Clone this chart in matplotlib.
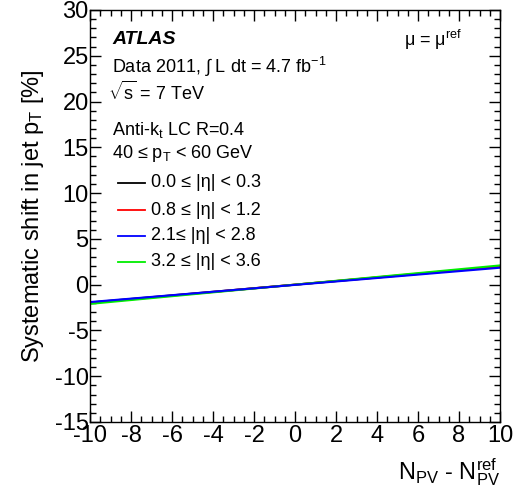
"""
ATLAS pile-up systematic shift vs N_PV - N_PV^ref
"""

import matplotlib
matplotlib.use("Agg")
import matplotlib.pyplot as plt
from matplotlib.ticker import MultipleLocator

# -------------------------------------------------------------------
# Data
# -------------------------------------------------------------------
npv_diff = [-10, 10]
labels = ["0.0 ≤ |η| < 0.3", "0.8 ≤ |η| < 1.2",
          "2.1≤ |η| < 2.8", "3.2 ≤ |η| < 3.6"]
shift_eta00 = [-1.95, 1.95]
shift_eta08 = [-2.0, 2.0]
shift_eta21 = [-1.9, 1.85]
shift_eta32 = [-2.1, 2.1]
colors = ["black", "red", "blue", "#00ee00"]

# -------------------------------------------------------------------
# Style
# -------------------------------------------------------------------
plt.rcParams["font.family"] = ["Liberation Sans", "DejaVu Sans"]
plt.rcParams["mathtext.fontset"] = "custom"
plt.rcParams["mathtext.rm"] = "Liberation Sans"
plt.rcParams["mathtext.it"] = "Liberation Sans"
plt.rcParams["mathtext.bf"] = "Liberation Sans:bold"
plt.rcParams["mathtext.sf"] = "Liberation Sans"
plt.rcParams["axes.unicode_minus"] = False

fig = plt.figure(figsize=(5.28, 4.95), dpi=100)
ax = fig.add_axes([0.1705, 0.1475, 0.7765, 0.8323])

series = [shift_eta00, shift_eta08, shift_eta21, shift_eta32]
# blue drawn last so it sits on top like in the original
for vals, col in zip([series[0], series[1], series[3], series[2]],
                     [colors[0], colors[1], colors[3], colors[2]]):
    ax.plot(npv_diff, vals, color=col, lw=1.5)

ax.set_xlim(-10, 10)
ax.set_ylim(-15, 30)
ax.xaxis.set_major_locator(MultipleLocator(2))
ax.xaxis.set_minor_locator(MultipleLocator(0.5))
ax.yaxis.set_major_locator(MultipleLocator(5))
ax.yaxis.set_minor_locator(MultipleLocator(1))
ax.tick_params(which="both", direction="in", top=True, right=True,
               labelsize=17, width=1)
ax.tick_params(which="major", length=8)
ax.tick_params(which="minor", length=4)
ax.tick_params(axis="x", pad=2)
ax.tick_params(axis="y", pad=1)
for s in ax.spines.values():
    s.set_linewidth(1)

ax.set_ylabel("Systematic shift in jet p$_\\mathrm{T}$ [%]", fontsize=17, labelpad=6)
ax.set_xlabel("N$_\\mathrm{PV}$ - N$_\\mathrm{PV}^\\mathrm{ref}$", fontsize=17, loc="right", labelpad=7)

# -------------------------------------------------------------------
# Labels
# -------------------------------------------------------------------
def fig_txt(x, y, s, **kw):
    fig.text(x / 528, 1 - y / 495, s, va="center", ha="left", **kw)

fig_txt(112, 40, "ATLAS", fontsize=14, fontweight="bold", style="italic")
fig_txt(404, 40, "μ = μ$^\\mathrm{ref}$", fontsize=13)
fig_txt(112, 67, "Data 2011, $\\int$ L dt = 4.7 fb$^{-1}$", fontsize=13)
fig_txt(108, 92, "$\\sqrt{\\mathrm{s}}$ = 7 TeV", fontsize=13)
fig_txt(112, 130, "Anti-k$_\\mathrm{t}$ LC R=0.4", fontsize=13)
fig_txt(112, 154, "40 ≤ p$_\\mathrm{T}$ < 60 GeV", fontsize=13)

leg_y = [183, 210, 236, 262]
for yy, lab, col in zip(leg_y, labels, colors):
    fig.add_artist(plt.Line2D([118 / 528, 145 / 528], [1 - yy / 495, 1 - yy / 495],
                              color=col, lw=1.3))
    fig_txt(151, yy, lab, fontsize=13)

fig.savefig("out.png", dpi=100)
